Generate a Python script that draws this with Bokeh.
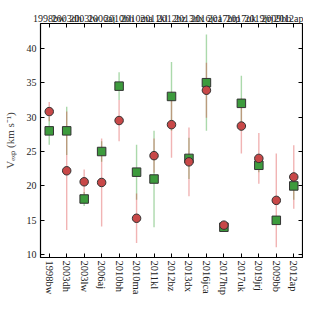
from bokeh.plotting import figure
from bokeh.models import (FactorRange, Range1d, Legend, LegendItem, LinearAxis, CategoricalAxis,
                          FixedTicker, ColumnDataSource)
from bokeh.embed import file_html
from bokeh.resources import INLINE

cats = ["1998bw", "2003dh", "2003lw", "2006aj", "2010bh", "2010ma", "2011kl", "2012bz",
        "2013dx", "2016jca", "2017htp", "2017uk", "2019jrj", "2009bb", "2012ap"]
lit = [28, 28, 18.1, 25, 34.5, 22, 21, 33, 24, 35, 14, 32, 23, 15, 20]
lit_err = [2, 3.5, 1, 1.5, 2, 4, 7, 5, 3, 7, 0.7, 4, 1, 0, 2]
work = [30.8, 22.2, 20.6, 20.5, 29.5, 15.3, 24.4, 28.9, 23.5, 33.9, 14.3, 28.7, 24.0, 17.9, 21.3]
work_err = [1.4, 8.6, 1.8, 6.4, 3.0, 3.6, 2.5, 4.8, 5.0, 4.0, 0.5, 4.0, 3.7, 6.8, 4.6]
y_ticks = [10, 15, 20, 25, 30, 35, 40]

FONT = "Liberation Serif"

src = ColumnDataSource(dict(
    x=cats, lit=lit, work=work,
    lit_lo=[v - e for v, e in zip(lit, lit_err)], lit_hi=[v + e for v, e in zip(lit, lit_err)],
    work_lo=[v - e for v, e in zip(work, work_err)], work_hi=[v + e for v, e in zip(work, work_err)],
))

p = figure(frame_width=262, frame_height=234, x_range=FactorRange(*cats), y_range=Range1d(9.6, 43.6),
           output_backend="svg", toolbar_location=None,
           min_border_left=32, min_border_right=1, min_border_top=23, min_border_bottom=39)
p.grid.visible = False
p.outline_line_color = "black"
p.outline_line_width = 1

p.segment(x0="x", y0="lit_lo", x1="x", y1="lit_hi", source=src,
          line_color="#2ca02c", line_alpha=0.4, line_width=1.4)
p.segment(x0="x", y0="work_lo", x1="x", y1="work_hi", source=src,
          line_color="#d62728", line_alpha=0.35, line_width=1.4)
r_lit = p.scatter(x="x", y="lit", source=src, marker="square", size=8.5,
                  fill_color="#3d9b3d", line_color="#333333", line_width=1)
r_work = p.scatter(x="x", y="work", source=src, marker="circle", size=8.5,
                   fill_color="#c84848", line_color="#333333", line_width=1)

def style(ax):
    ax.axis_line_color = "black"
    ax.axis_line_width = 1.2
    ax.major_tick_in = 4
    ax.major_tick_out = 0
    ax.major_tick_line_width = 1
    ax.minor_tick_line_color = None
    ax.major_tick_line_color = "black"
    ax.major_label_text_font = FONT
    ax.major_label_text_font_size = "10px"
    ax.major_label_text_color = "#222222"

yax = p.yaxis[0]
yax.ticker = FixedTicker(ticks=y_ticks)
style(yax)
yax.axis_label = "Vₑₓₚ (km s⁻¹)"
yax.axis_label_text_font = FONT
yax.axis_label_text_font_style = "normal"
yax.axis_label_text_font_size = "11px"
yax.axis_label_standoff = 8
yax.major_label_standoff = 4

xax = p.xaxis[0]
style(xax)
xax.major_label_orientation = "vertical"
xax.major_label_text_font_size = "10.5px"
xax.major_label_standoff = 3

top = CategoricalAxis()
style(top)
top.major_label_overrides = {c: "" for c in cats}
top.major_label_standoff = 0
p.add_layout(top, "above")

right = LinearAxis(ticker=FixedTicker(ticks=y_ticks))
style(right)
right.major_label_overrides = {t: "" for t in y_ticks}
right.major_label_standoff = 0
p.add_layout(right, "right")

legend = Legend(items=[LegendItem(label="From literature", renderers=[r_lit]),
                       LegendItem(label="This work", renderers=[r_work])],
                orientation="horizontal", location=(31, 243))
legend.label_text_font = FONT
legend.label_text_font_size = "9.5px"
legend.label_text_color = "#222222"
legend.border_line_color = None
legend.background_fill_alpha = 0
legend.spacing = 15
legend.glyph_width = 14
legend.glyph_height = 14
legend.label_standoff = 6
legend.padding = 2
legend.margin = 0
p.add_layout(legend, "center")

open("out.html", "w").write(file_html(p, INLINE))
